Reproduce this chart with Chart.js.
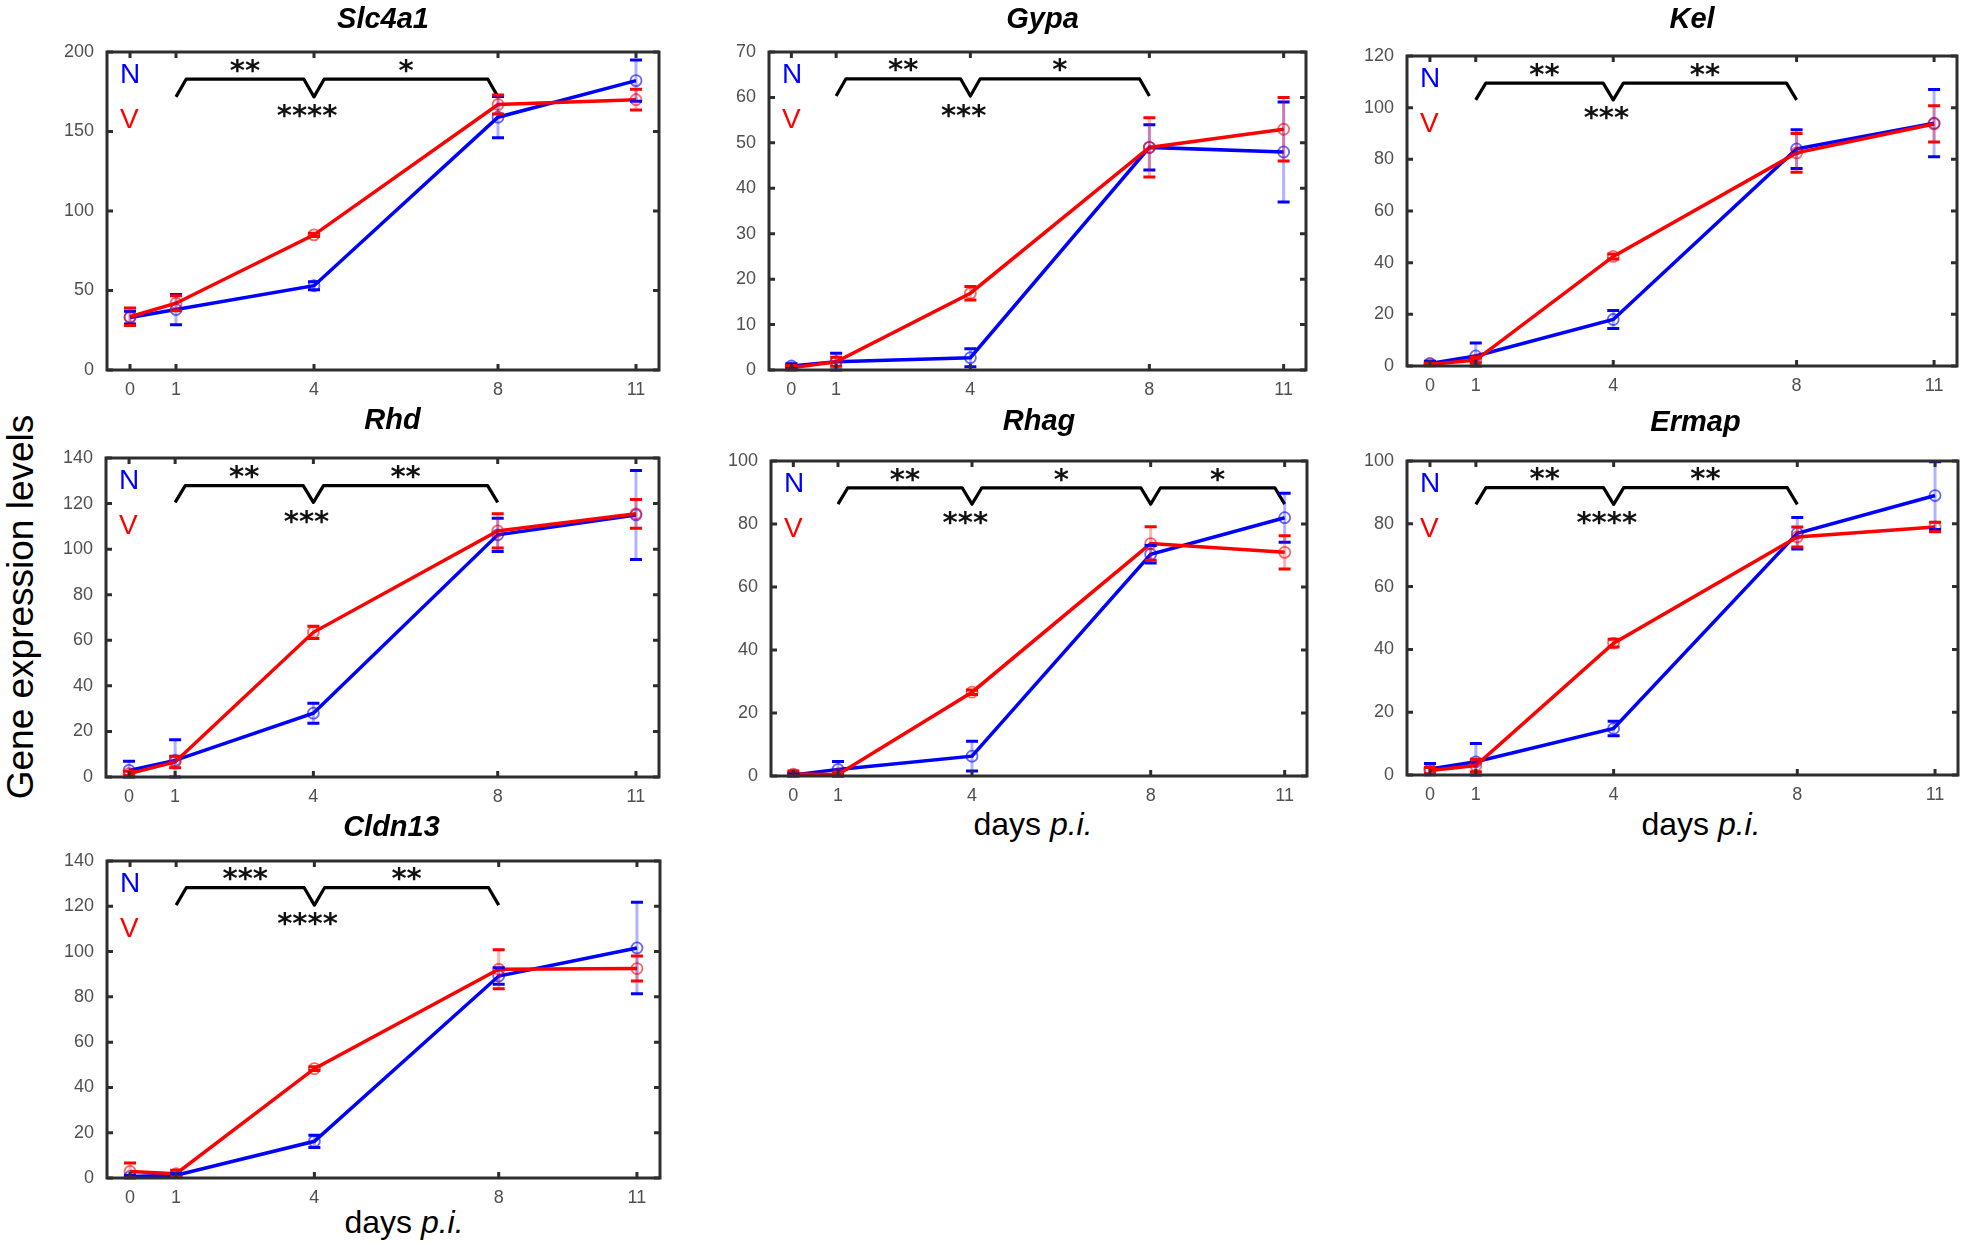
<!DOCTYPE html>
<html>
<head>
<meta charset="utf-8">
<script src="https://cdn.jsdelivr.net/npm/chart.js@4.4.1/dist/chart.umd.min.js"></script>
<style>
  body { margin: 0; background: #fff; width: 1961px; height: 1245px; position: relative; overflow: hidden;
         font-family: "Liberation Sans", Arial, sans-serif; }
  canvas { position: absolute; }
  .xlab { position: absolute; font-size: 32px; line-height: 1; color: #000; white-space: nowrap; transform: translateX(-50%); }
  .ylab { position: absolute; font-size: 37px; line-height: 1; color: #000; white-space: nowrap;
          transform: translate(-50%, -50%) rotate(-90deg); }
</style>
</head>
<body>
<div class="ylab" style="left:20px; top:607px;">Gene expression levels</div>
<div class="xlab" style="left:1033px; top:808px;">days <i>p.i.</i></div>
<div class="xlab" style="left:1701px; top:808px;">days <i>p.i.</i></div>
<div class="xlab" style="left:404px; top:1206px;">days <i>p.i.</i></div>
<script>
const days = [0, 1, 4, 8, 11];
const xTickLabels = ['0', '1', '4', '8', '11'];

// values, N = blue, V = red
const slc4a1N = [33, 38, 53, 159, 182];
const slc4a1NErr = [4, 9.5, 2.5, 13, 13];
const slc4a1V = [33.5, 42, 85, 167, 170];
const slc4a1VErr = [5.5, 4.7, 1, 6, 6.5];

const gypaN = [0.9, 1.8, 2.7, 49, 48];
const gypaNErr = [0.5, 1.9, 2, 5, 11];
const gypaV = [0.5, 1.8, 16.9, 49, 53];
const gypaVErr = [0.5, 1, 1.5, 6.5, 7];

const kelN = [1, 3.9, 18, 84, 94];
const kelNErr = [0.8, 5, 3.5, 7.5, 13];
const kelV = [0.6, 2.3, 42.4, 82.5, 93.7];
const kelVErr = [0.5, 1, 1, 7.5, 7];

const rhdN = [2.9, 7.3, 28, 106.3, 115];
const rhdNErr = [4, 9, 4.4, 7.3, 19.5];
const rhdV = [1.5, 6.6, 63.5, 108, 115.5];
const rhdVErr = [1, 2.5, 2.7, 7.5, 6.3];

const rhagN = [0.3, 2.1, 6.3, 70.4, 82];
const rhagNErr = [0.5, 2.5, 4.7, 2.8, 7.8];
const rhagV = [0.6, 0.5, 26.6, 73.8, 71];
const rhagVErr = [1, 0.5, 0.7, 5.3, 5.3];

const ermapN = [1.9, 4.2, 14.8, 77, 89];
const ermapNErr = [1.8, 5.8, 2.3, 5, 10.8];
const ermapV = [1.4, 3, 42, 75.8, 79];
const ermapVErr = [1, 2, 1.2, 3.2, 1.5];

const cldn13N = [0.7, 1.2, 16.2, 89.2, 101.6];
const cldn13NErr = [0.5, 0.8, 2.7, 3.6, 20.2];
const cldn13V = [2.9, 1.9, 48.3, 92.2, 92.5];
const cldn13VErr = [3.7, 1.5, 0.8, 8.6, 5.5];

// significance brackets: days joined, [foot, top] levels, stars over each span, stars under middle
const panels = [
  { title: 'Slc4a1', n: slc4a1N, nErr: slc4a1NErr, v: slc4a1V, vErr: slc4a1VErr, yMax: 200, yStep: 50,
    stops: [1, 4, 8], bracketY: [171.8, 182.9], stars: ['**', '*'], starsY: 191, midStars: '****', midStarsY: 163 },
  { title: 'Gypa', n: gypaN, nErr: gypaNErr, v: gypaV, vErr: gypaVErr, yMax: 70, yStep: 10,
    stops: [1, 4, 8], bracketY: [60.3, 64.1], stars: ['**', '*'], starsY: 67.1, midStars: '***', midStarsY: 57 },
  { title: 'Kel', n: kelN, nErr: kelNErr, v: kelV, vErr: kelVErr, yMax: 120, yStep: 20,
    stops: [1, 4, 8], bracketY: [103, 109.5], stars: ['**', '**'], starsY: 114.5, midStars: '***', midStarsY: 98 },
  { title: 'Rhd', n: rhdN, nErr: rhdNErr, v: rhdV, vErr: rhdVErr, yMax: 140, yStep: 20,
    stops: [1, 4, 8], bracketY: [120.5, 127.9], stars: ['**', '**'], starsY: 133.7, midStars: '***', midStarsY: 114 },
  { title: 'Rhag', n: rhagN, nErr: rhagNErr, v: rhagV, vErr: rhagVErr, yMax: 100, yStep: 20,
    stops: [1, 4, 8, 11], bracketY: [86.3, 91.5], stars: ['**', '*', '*'], starsY: 95.7, midStars: '***', midStarsY: 82 },
  { title: 'Ermap', n: ermapN, nErr: ermapNErr, v: ermapV, vErr: ermapVErr, yMax: 100, yStep: 20,
    stops: [1, 4, 8], bracketY: [86.2, 91.5], stars: ['**', '**'], starsY: 95.8, midStars: '****', midStarsY: 82 },
  { title: 'Cldn13', n: cldn13N, nErr: cldn13NErr, v: cldn13V, vErr: cldn13VErr, yMax: 140, yStep: 20,
    stops: [1, 4, 8], bracketY: [120.5, 128.2], stars: ['***', '**'], starsY: 134.1, midStars: '****', midStarsY: 114.2 }
];

// page layout: plot box [left, top, right, bottom], title shift and gap
const boxes = [
  [107, 52, 659, 370], [769, 52, 1306, 370], [1407, 56, 1957, 366],
  [106, 458, 659, 777], [771, 461, 1307, 776], [1407, 461, 1958, 775],
  [107, 861, 660, 1178]
];
const titleShift = [0, 5, 10, 10, 0, 13, 8];
const titleGap = [24, 24, 28, 29, 31, 30, 25];

const BLUE = 'rgb(0,0,255)';
const RED = 'rgb(255,0,0)';
const tickFont = { family: '"Liberation Sans", Arial, sans-serif', size: 18 };

function bracketPoints(stops, lo, hi) {
  const d = 0.22;
  const pts = [];
  for (let i = 0; i < stops.length; i++) {
    if (i > 0) pts.push({ x: stops[i] - d, y: hi });
    pts.push({ x: stops[i], y: lo });
    if (i < stops.length - 1) pts.push({ x: stops[i] + d, y: hi });
  }
  return pts;
}

function decor(p, idx) {
  return {
    id: 'decor' + idx,
    afterDatasetsDraw(chart) {
      const ctx = chart.ctx;
      const ys = chart.scales.y;
      [[0, p.nErr, BLUE, 'rgba(0,0,255,0.3)'], [1, p.vErr, RED, 'rgba(255,0,0,0.3)']].forEach(([di, errs, col, light]) => {
        const meta = chart.getDatasetMeta(di);
        const vals = chart.data.datasets[di].data;
        meta.data.forEach((pt, i) => {
          const top = ys.getPixelForValue(vals[i].y + errs[i]);
          const bot = ys.getPixelForValue(Math.max(vals[i].y - errs[i], 0));
          ctx.save();
          ctx.strokeStyle = light; ctx.lineWidth = 3;
          ctx.beginPath(); ctx.moveTo(pt.x, top); ctx.lineTo(pt.x, bot); ctx.stroke();
          ctx.strokeStyle = col; ctx.lineWidth = 3;
          ctx.beginPath();
          ctx.moveTo(pt.x - 6, top); ctx.lineTo(pt.x + 6, top);
          ctx.moveTo(pt.x - 6, bot); ctx.lineTo(pt.x + 6, bot);
          ctx.stroke();
          ctx.restore();
        });
      });
    },
    afterDraw(chart) {
      const ctx = chart.ctx;
      const a = chart.chartArea;
      const xs = chart.scales.x, ys = chart.scales.y;
      ctx.save();
      // box and inward ticks
      ctx.strokeStyle = '#2e2e2e';
      ctx.lineWidth = 3;
      ctx.strokeRect(a.left, a.top, a.right - a.left, a.bottom - a.top);
      ctx.beginPath();
      days.forEach(d => {
        const x = xs.getPixelForValue(d);
        ctx.moveTo(x, a.bottom); ctx.lineTo(x, a.bottom - 6);
        ctx.moveTo(x, a.top); ctx.lineTo(x, a.top + 6);
      });
      ys.ticks.forEach(t => {
        const y = ys.getPixelForValue(t.value);
        ctx.moveTo(a.left, y); ctx.lineTo(a.left + 6, y);
        ctx.moveTo(a.right, y); ctx.lineTo(a.right - 6, y);
      });
      ctx.stroke();
      // N / V labels
      ctx.font = '28px "Liberation Sans", Arial, sans-serif';
      ctx.textAlign = 'left'; ctx.textBaseline = 'alphabetic';
      ctx.fillStyle = BLUE; ctx.fillText('N', a.left + 13, a.top + 31);
      ctx.fillStyle = RED; ctx.fillText('V', a.left + 13, a.top + 76);
      // stars
      ctx.fillStyle = '#111';
      ctx.font = 'bold 29px "DejaVu Sans", sans-serif';
      ctx.textAlign = 'center';
      p.stars.forEach((s, i) => {
        const mid = (p.stops[i] + p.stops[i + 1]) / 2;
        ctx.fillText(s, xs.getPixelForValue(mid), ys.getPixelForValue(p.starsY) + 14);
      });
      ctx.fillText(p.midStars, xs.getPixelForValue(3.85), ys.getPixelForValue(p.midStarsY) + 14);
      // title
      ctx.fillStyle = '#000';
      ctx.font = 'italic bold 29px "Liberation Sans", Arial, sans-serif';
      ctx.fillText(p.title, (a.left + a.right) / 2 + titleShift[idx], a.top - titleGap[idx]);
      ctx.restore();
    }
  };
}

panels.forEach((p, idx) => {
  const [L, T, R, B] = boxes[idx];
  const padL = 70, padT = 60, padR = 12, padB = 40;
  const cv = document.createElement('canvas');
  cv.width = R - L + padL + padR;
  cv.height = B - T + padT + padB;
  cv.style.left = (L - padL) + 'px';
  cv.style.top = (T - padT) + 'px';
  cv.style.width = cv.width + 'px';
  cv.style.height = cv.height + 'px';
  document.body.appendChild(cv);

  new Chart(cv, {
    type: 'line',
    data: {
      datasets: [
        { label: 'N', data: days.map((d, i) => ({ x: d, y: p.n[i] })), borderColor: BLUE, borderWidth: 3.5,
          pointRadius: 5.5, pointBorderWidth: 1.8, pointBorderColor: 'rgba(0,0,255,0.6)',
          pointBackgroundColor: 'rgba(0,0,0,0)', tension: 0, order: 2 },
        { label: 'V', data: days.map((d, i) => ({ x: d, y: p.v[i] })), borderColor: RED, borderWidth: 3.5,
          pointRadius: 5.5, pointBorderWidth: 1.8, pointBorderColor: 'rgba(255,0,0,0.6)',
          pointBackgroundColor: 'rgba(0,0,0,0)', tension: 0, order: 1 },
        { label: 'bracket', data: bracketPoints(p.stops, p.bracketY[0], p.bracketY[1]), borderColor: '#000',
          borderWidth: 3.2, pointRadius: 0, tension: 0, order: 0, borderJoinStyle: 'round' }
      ]
    },
    options: {
      responsive: false,
      animation: false,
      devicePixelRatio: 1,
      events: [],
      layout: { padding: { top: padT, right: padR, left: 0, bottom: 0 } },
      plugins: { legend: { display: false }, tooltip: { enabled: false }, title: { display: false } },
      scales: {
        x: {
          type: 'linear', min: -0.5, max: 11.5,
          afterBuildTicks(s) { s.ticks = days.map(v => ({ value: v })); },
          afterFit(s) { s.height = padB; },
          grid: { display: false }, border: { display: false },
          ticks: { padding: 1, font: tickFont, color: '#505050', maxRotation: 0, autoSkip: false,
                   callback: (v, i) => xTickLabels[i] }
        },
        y: {
          min: 0, max: p.yMax,
          afterFit(s) { s.width = padL; },
          grid: { display: false }, border: { display: false },
          ticks: { stepSize: p.yStep, padding: 5, font: tickFont, color: '#505050' }
        }
      }
    },
    plugins: [decor(p, idx)]
  });
});
</script>
</body>
</html>
